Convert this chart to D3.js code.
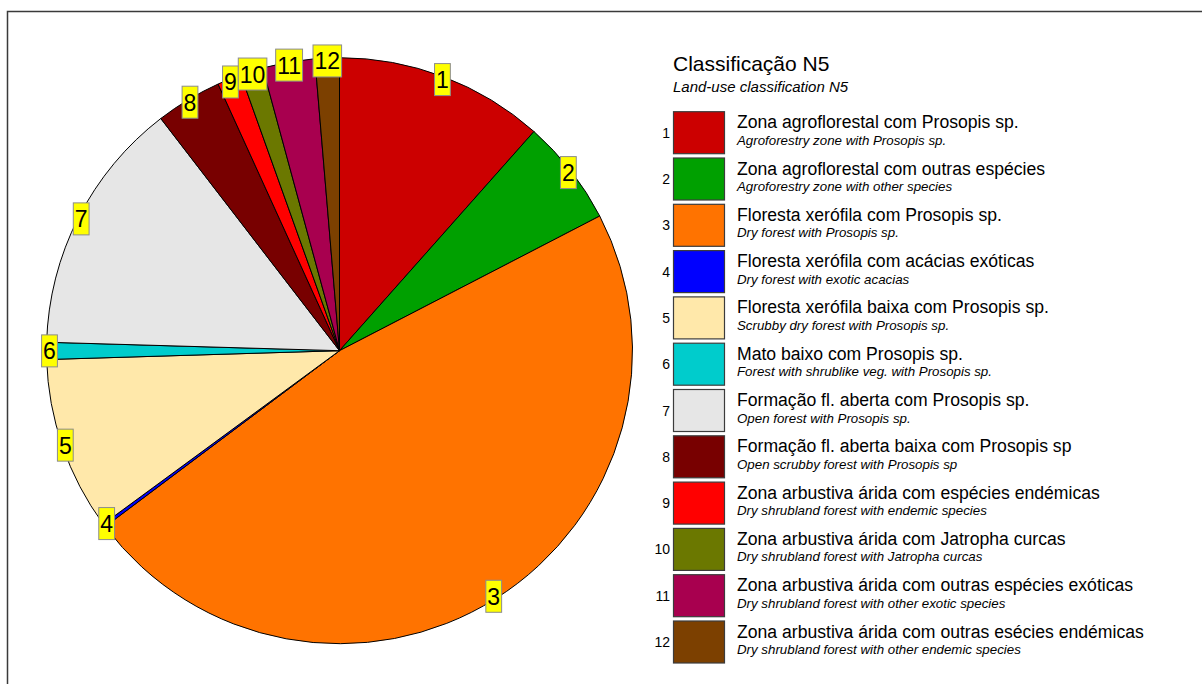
<!DOCTYPE html>
<html>
<head>
<meta charset="utf-8">
<script src="https://cdn.jsdelivr.net/npm/d3@7"></script>
<style>
  html, body { margin: 0; padding: 0; background: #ffffff; }
  svg { display: block; font-family: "Liberation Sans", Arial, sans-serif; }
</style>
</head>
<body>
<svg id="chart" width="1202" height="684"></svg>
<script>
// ---- data ----
const codes = ["1","2","3","4","5","6","7","8","9","10","11","12"];
const values = [11.55, 5.85, 47.35, 0.17, 9.6, 0.94, 14.1, 3.64, 1.33, 1.25, 2.88, 1.34];
const colors = ["#CC0000","#00A000","#FF7300","#0000FF","#FFE8AA","#00CCCC","#E6E6E6","#780000","#FF0000","#6B7800","#A8004F","#7C4000"];
const namesPt = [
  "Zona agroflorestal com Prosopis sp.",
  "Zona agroflorestal com outras espécies",
  "Floresta xerófila com Prosopis sp.",
  "Floresta xerófila com acácias exóticas",
  "Floresta xerófila baixa com Prosopis sp.",
  "Mato baixo com Prosopis sp.",
  "Formação fl. aberta com Prosopis sp.",
  "Formação fl. aberta baixa com Prosopis sp",
  "Zona arbustiva árida com espécies endémicas",
  "Zona arbustiva árida com Jatropha curcas",
  "Zona arbustiva árida com outras espécies exóticas",
  "Zona arbustiva árida com outras esécies endémicas"
];
const namesEn = [
  "Agroforestry zone with Prosopis sp.",
  "Agroforestry zone with other species",
  "Dry forest with Prosopis sp.",
  "Dry forest with exotic acacias",
  "Scrubby dry forest with Prosopis sp.",
  "Forest with shrublike veg. with Prosopis sp.",
  "Open forest with Prosopis sp.",
  "Open scrubby forest with Prosopis sp",
  "Dry shrubland forest with endemic species",
  "Dry shrubland forest with Jatropha curcas",
  "Dry shrubland forest with other exotic species",
  "Dry shrubland forest with other endemic species"
];
const titlePt = "Classificação N5";
const titleEn = "Land-use classification N5";

// ---- drawing ----
const svg = d3.select("#chart");
const cx = 339.5, cy = 350.7, R = 293;

// frame
svg.append("rect")
  .attr("x", 7.5).attr("y", 11.5)
  .attr("width", 1300).attr("height", 800)
  .attr("fill", "none").attr("stroke", "#3a3a3a").attr("stroke-width", 1.5);

const data = codes.map((c, i) => ({code: c, value: values[i], color: colors[i], pt: namesPt[i], en: namesEn[i]}));
const pie = d3.pie().value(d => d.value).sort(null).startAngle(0).endAngle(2 * Math.PI);
const arcs = pie(data);
const arc = d3.arc().innerRadius(0).outerRadius(R);
const labelArc = d3.arc().innerRadius(290).outerRadius(290);

const g = svg.append("g").attr("transform", `translate(${cx},${cy})`);
g.selectAll("path.slice").data(arcs).join("path")
  .attr("class", "slice")
  .attr("d", arc)
  .attr("fill", d => d.data.color)
  .attr("stroke", "#000").attr("stroke-width", 1).attr("stroke-linejoin", "round");

// slice labels (yellow boxes)
const lab = g.selectAll("g.lab").data(arcs).join("g").attr("class", "lab")
  .attr("transform", d => { const p = labelArc.centroid(d); return `translate(${p[0]},${p[1]})`; });
lab.each(function(d) {
  const gg = d3.select(this);
  const t = gg.append("text").text(d.data.code)
    .attr("text-anchor", "middle").attr("y", 8.5)
    .attr("font-size", 23).attr("fill", "#000");
  const w = t.node().getComputedTextLength() + 3;
  gg.insert("rect", "text")
    .attr("x", -w / 2).attr("y", -16).attr("width", w).attr("height", 32)
    .attr("fill", "#FFFF00").attr("stroke", "#8c8c8c").attr("stroke-width", 1);
});

// legend
const lx = 673.5, ly0 = 111.7, pitch = 46.3;
svg.append("text").attr("x", 673).attr("y", 71).attr("font-size", 21).attr("fill", "#000").text(titlePt);
svg.append("text").attr("x", 673).attr("y", 92).attr("font-size", 15).attr("font-style", "italic").attr("fill", "#000").text(titleEn);

const leg = svg.selectAll("g.leg").data(data).join("g").attr("class", "leg")
  .attr("transform", (d, i) => `translate(0,${ly0 + i * pitch})`);
leg.append("rect").attr("x", lx).attr("y", 0).attr("width", 51).attr("height", 42)
  .attr("fill", d => d.color).attr("stroke", "#3c3c3c").attr("stroke-width", 1.2);
leg.append("text").attr("x", 670).attr("y", 26).attr("text-anchor", "end")
  .attr("font-size", 14).attr("fill", "#000").text(d => d.code);
leg.append("text").attr("x", 737).attr("y", 16.5)
  .attr("font-size", 17.6).attr("fill", "#000").text(d => d.pt);
leg.append("text").attr("x", 737).attr("y", 33)
  .attr("font-size", 13.3).attr("font-style", "italic").attr("fill", "#000").text(d => d.en);
</script>
</body>
</html>
